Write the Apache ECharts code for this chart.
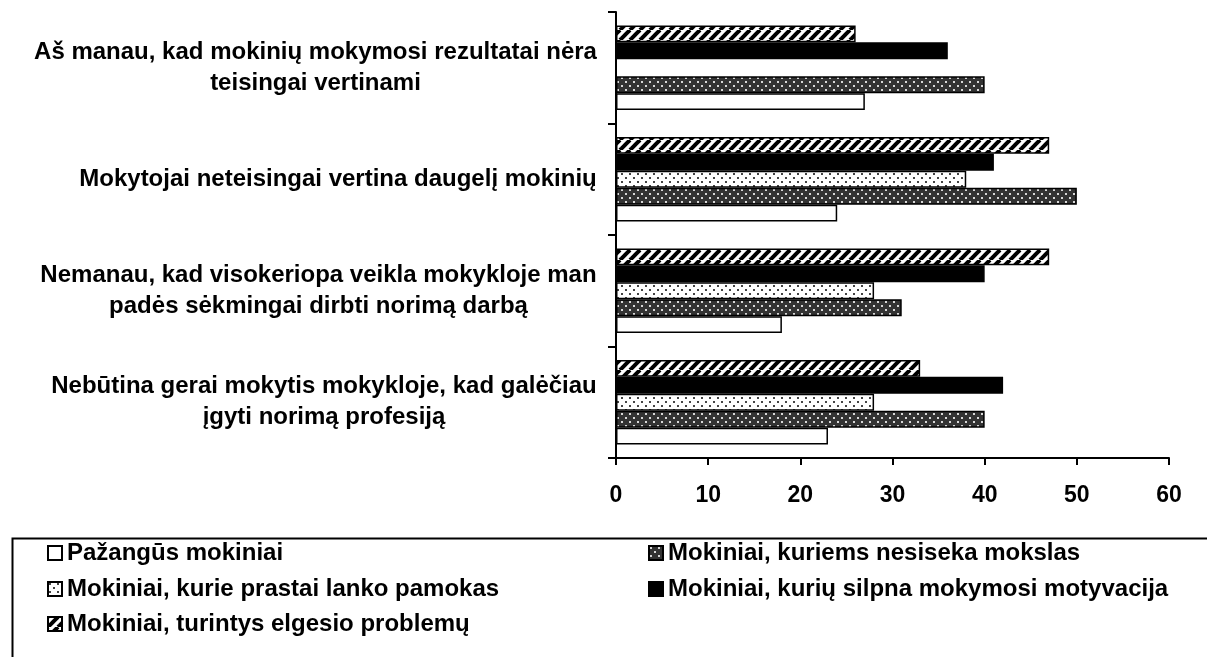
<!DOCTYPE html>
<html>
<head>
<meta charset="utf-8">
<script src="https://cdn.jsdelivr.net/npm/echarts@6/dist/echarts.min.js"></script>
<style>
html,body{margin:0;padding:0;background:#fff;}
#chart{width:1207px;height:657px;}
</style>
</head>
<body>
<div id="chart"></div>
<script>
// Categories, top to bottom
const categories = [
  'Aš manau, kad mokinių mokymosi rezultatai nėra\nteisingai vertinami',
  'Mokytojai neteisingai vertina daugelį mokinių',
  'Nemanau, kad visokeriopa veikla mokykloje man\npadės sėkmingai dirbti norimą darbą',
  'Nebūtina gerai mokytis mokykloje, kad galėčiau\nįgyti norimą profesiją'
];
const seriesNames = [
  'Pažangūs mokiniai',
  'Mokiniai, kuriems nesiseka mokslas',
  'Mokiniai, kurie prastai lanko pamokas',
  'Mokiniai, kurių silpna mokymosi motyvacija',
  'Mokiniai, turintys elgesio problemų'
];
const pazangus      = [27, 24, 18, 23];
const nesiseka      = [40, 50, 31, 40];
const prastaiLanko  = [null, 38, 28, 28];
const silpnaMotyv   = [36, 41, 40, 42];
const elgesio       = [26, 47, 47, 33];
const xTicks = [0, 10, 20, 30, 40, 50, 60];

const FONT = '"Liberation Sans", Arial, sans-serif';
const LABEL_SIZE = 24;
const TICK_SIZE = 23;

function makeDots(bg, dot) {
  const c = document.createElement('canvas');
  c.width = 8; c.height = 8;
  const g = c.getContext('2d');
  g.fillStyle = bg; g.fillRect(0, 0, 8, 8);
  g.fillStyle = dot;
  g.fillRect(1, 1, 2, 2);
  g.fillRect(5, 5, 2, 2);
  return c;
}
function makeHatch() {
  const s = 10;
  const c = document.createElement('canvas');
  c.width = s; c.height = s;
  const g = c.getContext('2d');
  g.fillStyle = '#fff'; g.fillRect(0, 0, s, s);
  g.strokeStyle = '#000'; g.lineWidth = 4;
  for (let k = -1; k <= 1; k++) {
    g.beginPath();
    g.moveTo(k * s, s);
    g.lineTo(k * s + s, 0);
    g.stroke();
  }
  return c;
}
const fills = {
  white: '#ffffff',
  dark: { image: makeDots('#333333', '#d8d8d8'), repeat: 'repeat' },
  light: { image: makeDots('#ffffff', '#444444'), repeat: 'repeat' },
  black: '#000000',
  hatch: { image: makeHatch(), repeat: 'repeat' }
};

// measure label block widths for centered multi-line labels
const mc = document.createElement('canvas').getContext('2d');
mc.font = 'bold ' + LABEL_SIZE + 'px ' + FONT;
const rich = {};
categories.forEach((cat, i) => {
  const w = Math.max(...cat.split('\n').map(l => mc.measureText(l).width));
  rich['c' + i] = {
    width: Math.ceil(w) + 2, align: 'center',
    fontSize: LABEL_SIZE, fontWeight: 'bold', fontFamily: FONT,
    lineHeight: 31, color: '#000'
  };
});

function bar(name, data, fill) {
  return {
    name: name, type: 'bar', data: data,
    barGap: '0%', barCategoryGap: '24%',
    itemStyle: { color: fill, borderColor: '#000', borderWidth: 1.5 },
    emphasis: { disabled: true },
    animation: false
  };
}

const legendPos = [
  { left: 47, top: 541 },
  { left: 648, top: 541 },
  { left: 47, top: 577 },
  { left: 648, top: 577 },
  { left: 47, top: 612 }
];

const chart = echarts.init(document.getElementById('chart'), null, { renderer: 'canvas' });
chart.setOption({
  backgroundColor: '#fff',
  animation: false,
  grid: { left: 616, right: 38, top: 12, bottom: 199, containLabel: false },
  xAxis: {
    type: 'value', min: 0, max: 60, interval: 10,
    axisLine: { show: true, lineStyle: { color: '#000', width: 2 } },
    axisTick: { show: true, length: 7, lineStyle: { color: '#000', width: 2 } },
    splitLine: { show: false },
    axisLabel: {
      margin: 26, color: '#000', fontSize: TICK_SIZE, fontWeight: 'bold', fontFamily: FONT,
      formatter: v => xTicks.includes(v) ? String(v) : ''
    }
  },
  yAxis: {
    type: 'category', inverse: true, data: categories,
    axisLine: { show: true, lineStyle: { color: '#000', width: 2 } },
    axisTick: { show: true, length: 8, lineStyle: { color: '#000', width: 2 } },
    axisLabel: {
      margin: 18, align: 'right',
      formatter: (value, idx) => value.split('\n').map(l => '{c' + idx + '|' + l + '}').join('\n'),
      rich: rich
    }
  },
  legend: seriesNames.map((n, i) => ({
    data: [n], left: legendPos[i].left, top: legendPos[i].top,
    orient: 'horizontal', itemWidth: 14, itemHeight: 14, itemGap: 0, padding: 0,
    icon: 'rect', selectedMode: false,
    textStyle: { color: '#000', fontSize: LABEL_SIZE, fontWeight: 'bold', fontFamily: FONT }
  })),
  graphic: [{
    type: 'rect', left: 10, top: 536, silent: true,
    shape: { width: 1210, height: 130 },
    style: { fill: 'none', stroke: '#000', lineWidth: 2 }
  }],
  series: [
    bar(seriesNames[4], elgesio, fills.hatch),
    bar(seriesNames[3], silpnaMotyv, fills.black),
    bar(seriesNames[2], prastaiLanko, fills.light),
    bar(seriesNames[1], nesiseka, fills.dark),
    bar(seriesNames[0], pazangus, fills.white)
  ]
});
</script>
</body>
</html>
